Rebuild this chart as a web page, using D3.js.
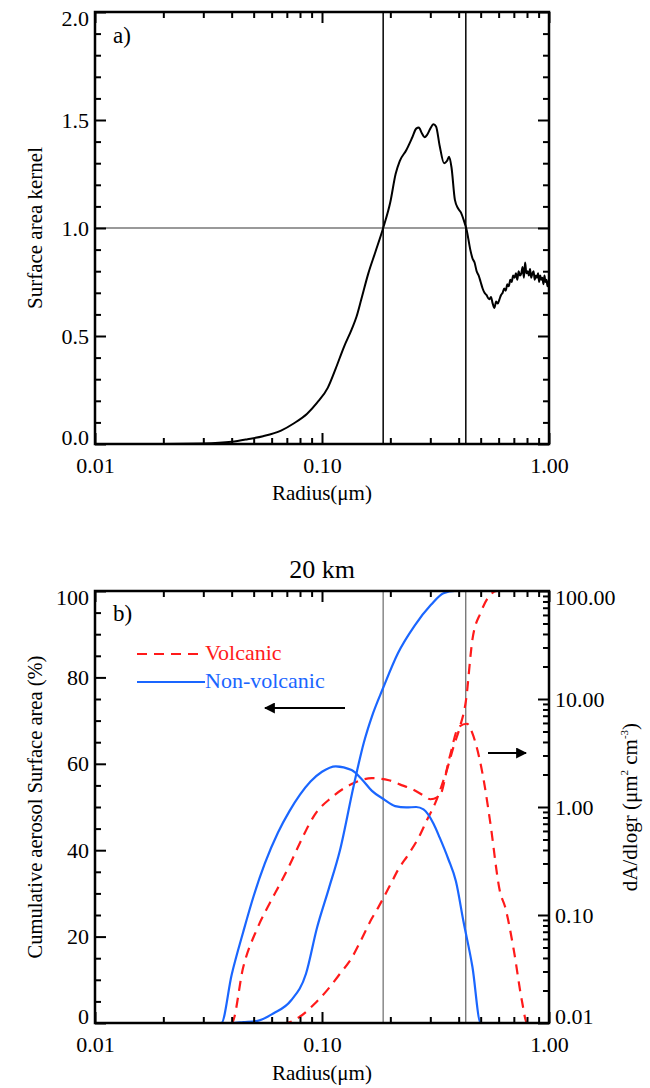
<!DOCTYPE html>
<html>
<head>
<meta charset="utf-8">
<script src="https://cdn.jsdelivr.net/npm/d3@7"></script>
<style>
  html, body { margin: 0; padding: 0; background: #fff; }
  svg { display: block; }
  svg text { font-family: "Liberation Serif", "Times New Roman", Tinos, "DejaVu Serif", serif !important; }
</style>
</head>
<body>
<svg id="chart" width="650" height="1088" font-family="Liberation Serif, Times New Roman, serif"></svg>
<script>
// ---- Panel a) surface area kernel ----
const kernelRadius = [0.01, 0.02, 0.03, 0.04, 0.047, 0.055, 0.066, 0.075, 0.086, 0.095, 0.106, 0.115, 0.125, 0.135, 0.142, 0.149, 0.16, 0.172, 0.186, 0.2, 0.211, 0.22, 0.235, 0.25, 0.26, 0.267, 0.275, 0.283, 0.29, 0.3, 0.31, 0.318, 0.33, 0.345, 0.355, 0.363, 0.372, 0.385, 0.398, 0.41, 0.42, 0.434, 0.45, 0.46, 0.47, 0.48, 0.49, 0.5, 0.51, 0.52, 0.53, 0.545, 0.555, 0.565, 0.575, 0.585, 0.595, 0.605, 0.615, 0.625, 0.635, 0.645, 0.655, 0.665, 0.675, 0.685, 0.695, 0.705, 0.715, 0.725, 0.735, 0.745, 0.755, 0.765, 0.775, 0.785, 0.795, 0.805, 0.815, 0.825, 0.835, 0.845, 0.855, 0.865, 0.875, 0.885, 0.895, 0.905, 0.915, 0.925, 0.935, 0.945, 0.955, 0.965, 0.975, 0.985, 1.0];
const kernelValue = [0, 0, 0.002, 0.01, 0.022, 0.036, 0.062, 0.095, 0.14, 0.19, 0.26, 0.35, 0.45, 0.53, 0.59, 0.67, 0.79, 0.89, 1.0, 1.12, 1.25, 1.31, 1.36, 1.42, 1.46, 1.465, 1.44, 1.42, 1.43, 1.46, 1.48, 1.47, 1.38, 1.3, 1.31, 1.33, 1.28, 1.13, 1.09, 1.07, 1.04, 0.99, 0.9, 0.86, 0.84, 0.8, 0.78, 0.75, 0.72, 0.7, 0.69, 0.67, 0.68, 0.65, 0.63, 0.66, 0.65, 0.67, 0.69, 0.7, 0.72, 0.71, 0.74, 0.73, 0.76, 0.75, 0.78, 0.77, 0.79, 0.76, 0.8, 0.78, 0.79, 0.82, 0.77, 0.84, 0.79, 0.8, 0.78, 0.81, 0.77, 0.79, 0.8, 0.76, 0.78, 0.77, 0.79, 0.75, 0.78, 0.76, 0.77, 0.74, 0.78, 0.75, 0.76, 0.73, 0.76];
const kernelMarks = [0.186, 0.43];
const kernelRef = 1.0;

// ---- Panel b) 20 km surface area distributions ----
const nonVolcCumRadius = [0.01, 0.04, 0.045, 0.052, 0.061, 0.073, 0.085, 0.095, 0.107, 0.12, 0.138, 0.153, 0.166, 0.186, 0.216, 0.256, 0.302, 0.343, 0.385, 1.0];
const nonVolcCum = [0, 0, 0.2, 0.5, 2.2, 5.2, 11.4, 22, 31, 40, 55, 65, 71, 77.6, 85.6, 92, 96.8, 99.5, 100, 100];

const nonVolcDistRadius = [0.01, 0.036, 0.04, 0.045, 0.05, 0.056, 0.064, 0.072, 0.08, 0.089, 0.1, 0.115, 0.135, 0.15, 0.166, 0.187, 0.21, 0.235, 0.26, 0.28, 0.31, 0.33, 0.36, 0.389, 0.42, 0.46, 0.5, 1.0];
const nonVolcDist = [0.01, 0.01, 0.028, 0.07, 0.15, 0.3, 0.58, 0.92, 1.3, 1.72, 2.12, 2.38, 2.2, 1.8, 1.41, 1.18, 1.02, 0.99, 1.0, 0.95, 0.7, 0.52, 0.33, 0.205, 0.087, 0.033, 0.01, 0.01];

const volcCumRadius = [0.01, 0.069, 0.08, 0.093, 0.105, 0.12, 0.135, 0.148, 0.165, 0.178, 0.2, 0.216, 0.24, 0.267, 0.29, 0.316, 0.337, 0.357, 0.38, 0.405, 0.43, 0.46, 0.5, 0.54, 0.59, 1.0];
const volcCum = [0, 0, 1.5, 4.5, 7.5, 11.4, 15, 19, 24, 27, 32, 35.4, 39, 43, 47, 51, 55, 59, 64, 68.5, 74.4, 88.8, 95, 98.5, 100, 100];

const volcDistRadius = [0.01, 0.04, 0.045, 0.052, 0.059, 0.065, 0.072, 0.082, 0.093, 0.11, 0.135, 0.166, 0.197, 0.22, 0.25, 0.28, 0.3, 0.33, 0.365, 0.4, 0.435, 0.46, 0.48, 0.52, 0.55, 0.61, 0.64, 0.7, 0.76, 0.8, 1.0];
const volcDist = [0.01, 0.01, 0.033, 0.076, 0.13, 0.19, 0.29, 0.52, 0.85, 1.22, 1.63, 1.85, 1.77, 1.62, 1.46, 1.28, 1.18, 1.27, 2.9, 5.5, 5.9, 4.8, 3.6, 1.6, 0.74, 0.16, 0.12, 0.047, 0.016, 0.01, 0.01];

const seriesNames = ["Volcanic", "Non-volcanic"];
const seriesColors = ["#ff1a1a", "#1a66ff"];

// ---- Tick labels ----
const radiusMajor = [0.01, 0.1, 1.0];
const radiusMajorLabels = ["0.01", "0.10", "1.00"];
const kernelMajor = [0, 0.5, 1.0, 1.5, 2.0];
const kernelMajorLabels = ["0.0", "0.5", "1.0", "1.5", "2.0"];
const cumMajor = [0, 20, 40, 60, 80, 100];
const cumMajorLabels = ["0", "20", "40", "60", "80", "100"];
const distMajor = [0.01, 0.1, 1, 10, 100];
const distMajorLabels = ["0.01", "0.10", "1.00", "10.00", "100.00"];

// ---------------------------------------------------------------
const FONT = '"Liberation Serif", "Times New Roman", serif';
const svg = d3.select("#chart");
const L = 95, R = 549;
const panelA = { top: 12, bottom: 444 };
const panelB = { top: 591, bottom: 1023 };

const x = d3.scaleLog().domain([0.01, 1]).range([L, R]);
const yA = d3.scaleLinear().domain([0, 2]).range([panelA.bottom, panelA.top]);
const yCum = d3.scaleLinear().domain([0, 100]).range([panelB.bottom, panelB.top]);
const yDist = d3.scaleLog().domain([0.01, 100]).range([panelB.bottom, panelB.top]);

function logMinor(lo, hi) {
  const out = [];
  for (let e = Math.floor(Math.log10(lo)); e < Math.ceil(Math.log10(hi)); e++) {
    for (let m = 2; m <= 9; m++) {
      const v = m * Math.pow(10, e);
      if (v > lo && v < hi) out.push(v);
    }
  }
  return out;
}
const radiusMinor = logMinor(0.01, 1);
const distMinor = logMinor(0.01, 100);
const kernelMinor = d3.range(0, 2.0001, 0.1).map(v => +v.toFixed(2)).filter(v => !kernelMajor.some(m => Math.abs(m - v) < 1e-6));
const cumMinor = d3.range(0, 100.001, 5).filter(v => v % 20 !== 0);

const tickFont = 22;
const MAJ = 11, MIN = 6;

function styleAxis(g, isX, n) {
  g.attr("font-family", FONT);
  g.select(".domain").remove();
  g.selectAll(".tick line").attr("stroke", "#000").attr("stroke-width", 2);
  const t = g.selectAll(".tick text").style("font-size", tickFont + "px").style("font-family", FONT);
  // end labels of a vertical axis sit just inside the plotted range
  if (!isX) t.attr("dy", (d, i) => i === 0 ? "0.02em" : (i === n - 1 ? "0.6em" : "0.32em"));
}

function addAxis(axisFn, scale, pos, values, size, labels, isX) {
  const ax = axisFn(scale).tickValues(values).tickSize(-size);
  if (labels) {
    ax.tickFormat((d, i) => labels[i]).tickPadding(isX ? 13 : 6);
  } else {
    ax.tickFormat("");
  }
  const g = svg.append("g").attr("transform", isX ? `translate(0,${pos})` : `translate(${pos},0)`).call(ax);
  styleAxis(g, isX, values.length);
  return g;
}

// Frame + ticks for one panel
function drawFrame(panel, yScale, yMaj, yMajLabels, yMin, rightScale) {
  addAxis(d3.axisBottom, x, panel.bottom, radiusMajor, MAJ, radiusMajorLabels, true);
  addAxis(d3.axisBottom, x, panel.bottom, radiusMinor, MIN, null, true);
  addAxis(d3.axisTop, x, panel.top, radiusMajor, MAJ, null, true);
  addAxis(d3.axisTop, x, panel.top, radiusMinor, MIN, null, true);
  addAxis(d3.axisLeft, yScale, L, yMaj, MAJ, yMajLabels, false);
  addAxis(d3.axisLeft, yScale, L, yMin, MIN, null, false);
  if (rightScale) {
    addAxis(d3.axisRight, rightScale, R, distMajor, MAJ, distMajorLabels, false);
    addAxis(d3.axisRight, rightScale, R, distMinor, MIN, null, false);
  } else {
    addAxis(d3.axisRight, yScale, R, yMaj, MAJ, null, false);
    addAxis(d3.axisRight, yScale, R, yMin, MIN, null, false);
  }
  svg.append("rect")
    .attr("x", L).attr("y", panel.top)
    .attr("width", R - L).attr("height", panel.bottom - panel.top)
    .attr("fill", "none").attr("stroke", "#000").attr("stroke-width", 2.5);
}

function clipFor(id, panel) {
  svg.append("clipPath").attr("id", id).append("rect")
    .attr("x", L).attr("y", panel.top - 1)
    .attr("width", R - L).attr("height", panel.bottom - panel.top + 2);
  return `url(#${id})`;
}

function label(xp, yp, txt, size, opts = {}) {
  return svg.append("text")
    .attr("x", xp).attr("y", yp)
    .attr("font-family", FONT)
    .style("font-size", size + "px")
    .attr("text-anchor", opts.anchor || "start")
    .style("fill", opts.fill || "#000")
    .text(txt);
}

// ================= Panel a) =================
const clipA = clipFor("clipA", panelA);
const gA = svg.append("g").attr("clip-path", clipA);

gA.append("line")
  .attr("x1", L).attr("x2", R)
  .attr("y1", yA(kernelRef)).attr("y2", yA(kernelRef))
  .attr("stroke", "#777").attr("stroke-width", 1.5);

kernelMarks.forEach(r => {
  gA.append("line")
    .attr("x1", x(r)).attr("x2", x(r))
    .attr("y1", panelA.top).attr("y2", panelA.bottom)
    .attr("stroke", "#111").attr("stroke-width", 1.6);
});

const kernelPts = kernelRadius.map((r, i) => [r, kernelValue[i]]);
gA.append("path")
  .datum(kernelPts)
  .attr("d", d3.line().x(d => x(d[0])).y(d => yA(d[1])).curve(d3.curveMonotoneX))
  .attr("fill", "none").attr("stroke", "#000").attr("stroke-width", 2);

drawFrame(panelA, yA, kernelMajor, kernelMajorLabels, kernelMinor, null);

label(113, 43, "a)", 23);
label((L + R) / 2, 500, "Radius(μm)", 21, { anchor: "middle" });

svg.append("text")
  .attr("transform", `translate(42,${(panelA.top + panelA.bottom) / 2}) rotate(-90)`)
  .attr("font-family", FONT)
  .attr("text-anchor", "middle").style("font-size", "21px")
  .text("Surface area kernel");

// ================= Panel b) =================
const clipB = clipFor("clipB", panelB);
const gB = svg.append("g").attr("clip-path", clipB);

gB.append("line")
  .attr("x1", x(kernelMarks[0])).attr("x2", x(kernelMarks[0]))
  .attr("y1", panelB.top).attr("y2", panelB.bottom)
  .attr("stroke", "#888").attr("stroke-width", 1.5);
gB.append("line")
  .attr("x1", x(kernelMarks[1])).attr("x2", x(kernelMarks[1]))
  .attr("y1", panelB.top).attr("y2", panelB.bottom)
  .attr("stroke", "#444").attr("stroke-width", 1);

const dash = "10,7";
function drawSeries(rs, vs, yScale, color, dashed) {
  const pts = rs.map((r, i) => [r, vs[i]]);
  gB.append("path")
    .datum(pts)
    .attr("d", d3.line().x(d => x(d[0])).y(d => yScale(d[1])).curve(d3.curveMonotoneX))
    .attr("fill", "none").attr("stroke", color).attr("stroke-width", 2.2)
    .attr("stroke-dasharray", dashed ? dash : null);
}

drawSeries(volcCumRadius, volcCum, yCum, seriesColors[0], true);
drawSeries(volcDistRadius, volcDist, yDist, seriesColors[0], true);
drawSeries(nonVolcCumRadius, nonVolcCum, yCum, seriesColors[1], false);
drawSeries(nonVolcDistRadius, nonVolcDist, yDist, seriesColors[1], false);

drawFrame(panelB, yCum, cumMajor, cumMajorLabels, cumMinor, yDist);

label(113, 621, "b)", 23);
label((L + R) / 2, 578, "20 km", 26, { anchor: "middle" });

// legend
[0, 1].forEach(i => {
  const ly = i === 0 ? 654 : 682;
  svg.append("line")
    .attr("x1", 137).attr("x2", i === 0 ? 198 : 205)
    .attr("y1", ly).attr("y2", ly)
    .attr("stroke", seriesColors[i]).attr("stroke-width", 2.2)
    .attr("stroke-dasharray", i === 0 ? dash : null);
  label(205, ly + 6, seriesNames[i], 22, { fill: seriesColors[i] });
});

// arrows pointing to the matching axis
svg.append("defs").append("marker")
  .attr("id", "arrowHead").attr("viewBox", "0 0 10 10")
  .attr("refX", 9).attr("refY", 5)
  .attr("markerWidth", 5).attr("markerHeight", 5)
  .attr("markerUnits", "strokeWidth")
  .attr("orient", "auto")
  .append("path").attr("d", "M0,0 L10,5 L0,10 z").attr("fill", "#000");

svg.append("line")
  .attr("x1", 345).attr("x2", 265).attr("y1", 708).attr("y2", 708)
  .attr("stroke", "#000").attr("stroke-width", 2.2)
  .attr("marker-end", "url(#arrowHead)");
svg.append("line")
  .attr("x1", 488).attr("x2", 526).attr("y1", 753).attr("y2", 753)
  .attr("stroke", "#000").attr("stroke-width", 2.2)
  .attr("marker-end", "url(#arrowHead)");

label((L + R) / 2, 1080, "Radius(μm)", 21, { anchor: "middle" });

svg.append("text")
  .attr("transform", `translate(42,${(panelB.top + panelB.bottom) / 2}) rotate(-90)`)
  .attr("font-family", FONT)
  .attr("text-anchor", "middle").style("font-size", "20.5px")
  .text("Cumulative aerosol Surface area (%)");

const rightTitle = svg.append("text")
  .attr("transform", `translate(637,${(panelB.top + panelB.bottom) / 2}) rotate(-90)`)
  .attr("font-family", FONT)
  .attr("text-anchor", "middle").style("font-size", "21px");
rightTitle.append("tspan").text("dA/dlogr (μm");
rightTitle.append("tspan").attr("dy", -9).style("font-size", "11px").text("2");
rightTitle.append("tspan").attr("dy", 9).text(" cm");
rightTitle.append("tspan").attr("dy", -9).style("font-size", "11px").text("-3");
rightTitle.append("tspan").attr("dy", 9).text(")");
</script>
</body>
</html>
